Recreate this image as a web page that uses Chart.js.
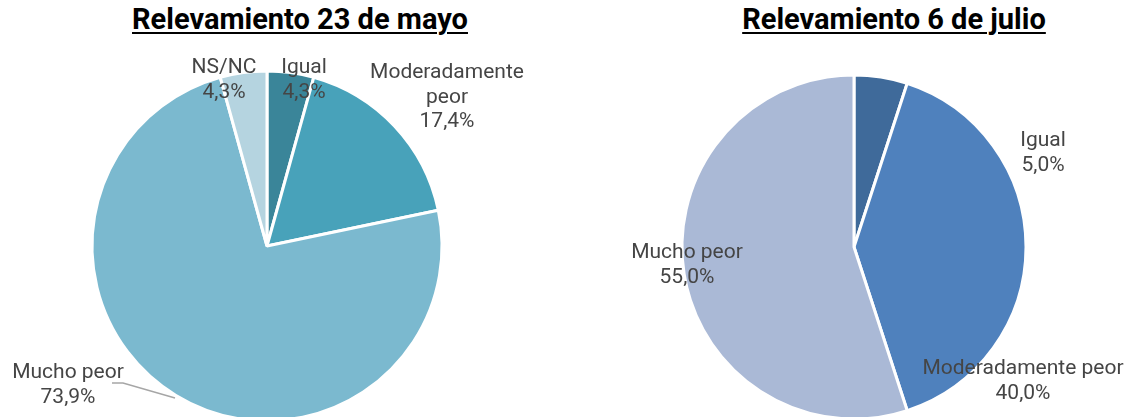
<!DOCTYPE html>
<html>
<head>
<meta charset="utf-8">
<script src="https://cdn.jsdelivr.net/npm/chart.js@4.4.1/dist/chart.umd.min.js"></script>
<style>
    html, body { margin: 0; padding: 0; background: #fff; overflow: hidden; }
    body { width: 1131px; height: 417px; position: relative; font-family: Roboto, sans-serif; }
    .titulo {
        position: absolute; top: 2px; margin: 0;
        font: bold 29px Roboto, sans-serif; color: #000;
        text-decoration: underline; text-underline-offset: 3px; text-decoration-thickness: 2px;
        white-space: nowrap; transform: translateX(-50%);
    }
    .caja { position: absolute; }
</style>
</head>
<body>
<h2 class="titulo" style="left:300px">Relevamiento 23 de mayo</h2>
<h2 class="titulo" style="left:894px">Relevamiento 6 de julio</h2>
<div class="caja" style="left:0;top:0;width:560px;height:492px"><canvas id="mayoChart"></canvas></div>
<div class="caja" style="left:580px;top:0;width:551px;height:494px"><canvas id="julioChart"></canvas></div>
<script>
// Datos del relevamiento del 23 de mayo
const categoriasMayo = ['Igual', 'Moderadamente peor', 'Mucho peor', 'NS/NC'];
const valoresMayo = [4.3, 17.4, 73.9, 4.3];
// Datos del relevamiento del 6 de julio
const categoriasJulio = ['Igual', 'Moderadamente peor', 'Mucho peor'];
const valoresJulio = [5.0, 40.0, 55.0];

const coloresMayo = ['#3a8599', '#48a2ba', '#7bb9cf', '#b5d4e0'];
const coloresJulio = ['#3f6a9a', '#4f81bd', '#aab9d6'];

// Etiquetas dibujadas respecto al centro de la torta
const etiquetasPlugin = {
    id: 'etiquetas',
    afterDatasetsDraw(chart, args, opts) {
        const ctx = chart.ctx;
        const meta = chart.getDatasetMeta(0);
        const ds = chart.data.datasets[0];
        ctx.save();
        ctx.font = '21px Roboto, sans-serif';
        ctx.fillStyle = '#454545';
        ctx.textAlign = 'center';
        ctx.textBaseline = 'middle';
        meta.data.forEach((arc, i) => {
            const pos = opts.posiciones[i];
            const x = arc.x + pos[0];
            const y = arc.y + pos[1];
            let lineas = opts.partir[i] ? chart.data.labels[i].split(' ') : [chart.data.labels[i]];
            lineas = lineas.concat(ds.data[i].toFixed(1).replace('.', ',') + '%');
            lineas.forEach((txt, j) => ctx.fillText(txt, x, y + j * 24.5));
            // línea guía
            if (opts.guias && opts.guias[i]) {
                const g = opts.guias[i];
                ctx.strokeStyle = '#a6a6a6';
                ctx.lineWidth = 1.5;
                ctx.beginPath();
                ctx.moveTo(arc.x + g[0][0], arc.y + g[0][1]);
                g.slice(1).forEach(p => ctx.lineTo(arc.x + p[0], arc.y + p[1]));
                ctx.stroke();
            }
        });
        ctx.restore();
    }
};

function crearTorta(id, labels, data, colores, radio, relleno, opcionesEtiquetas) {
    const ctx = document.getElementById(id).getContext('2d');
    return new Chart(ctx, {
        type: 'pie',
        data: {
            labels: labels,
            datasets: [{
                data: data,
                backgroundColor: colores,
                borderColor: '#ffffff',
                borderWidth: 3,
                hoverOffset: 0
            }]
        },
        options: {
            responsive: true,
            maintainAspectRatio: false,
            animation: false,
            radius: radio,
            layout: { padding: relleno },
            events: [],
            plugins: {
                legend: { display: false },
                tooltip: { enabled: false },
                etiquetas: opcionesEtiquetas
            }
        },
        plugins: [etiquetasPlugin]
    });
}

crearTorta('mayoChart', categoriasMayo, valoresMayo, coloresMayo, 175, { right: 26 }, {
    posiciones: [[37, -178], [180, -173], [-199, 127], [-43, -178]],
    partir: [false, true, false, false],
    guias: [null, null, [[-155, 137], [-144, 137], [-92, 152]], null]
});

crearTorta('julioChart', categoriasJulio, valoresJulio, coloresJulio, 172, { left: 20, right: 23 }, {
    posiciones: [[189, -106], [169, 122], [-167, 6]],
    partir: [false, false, false]
});
</script>
</body>
</html>
